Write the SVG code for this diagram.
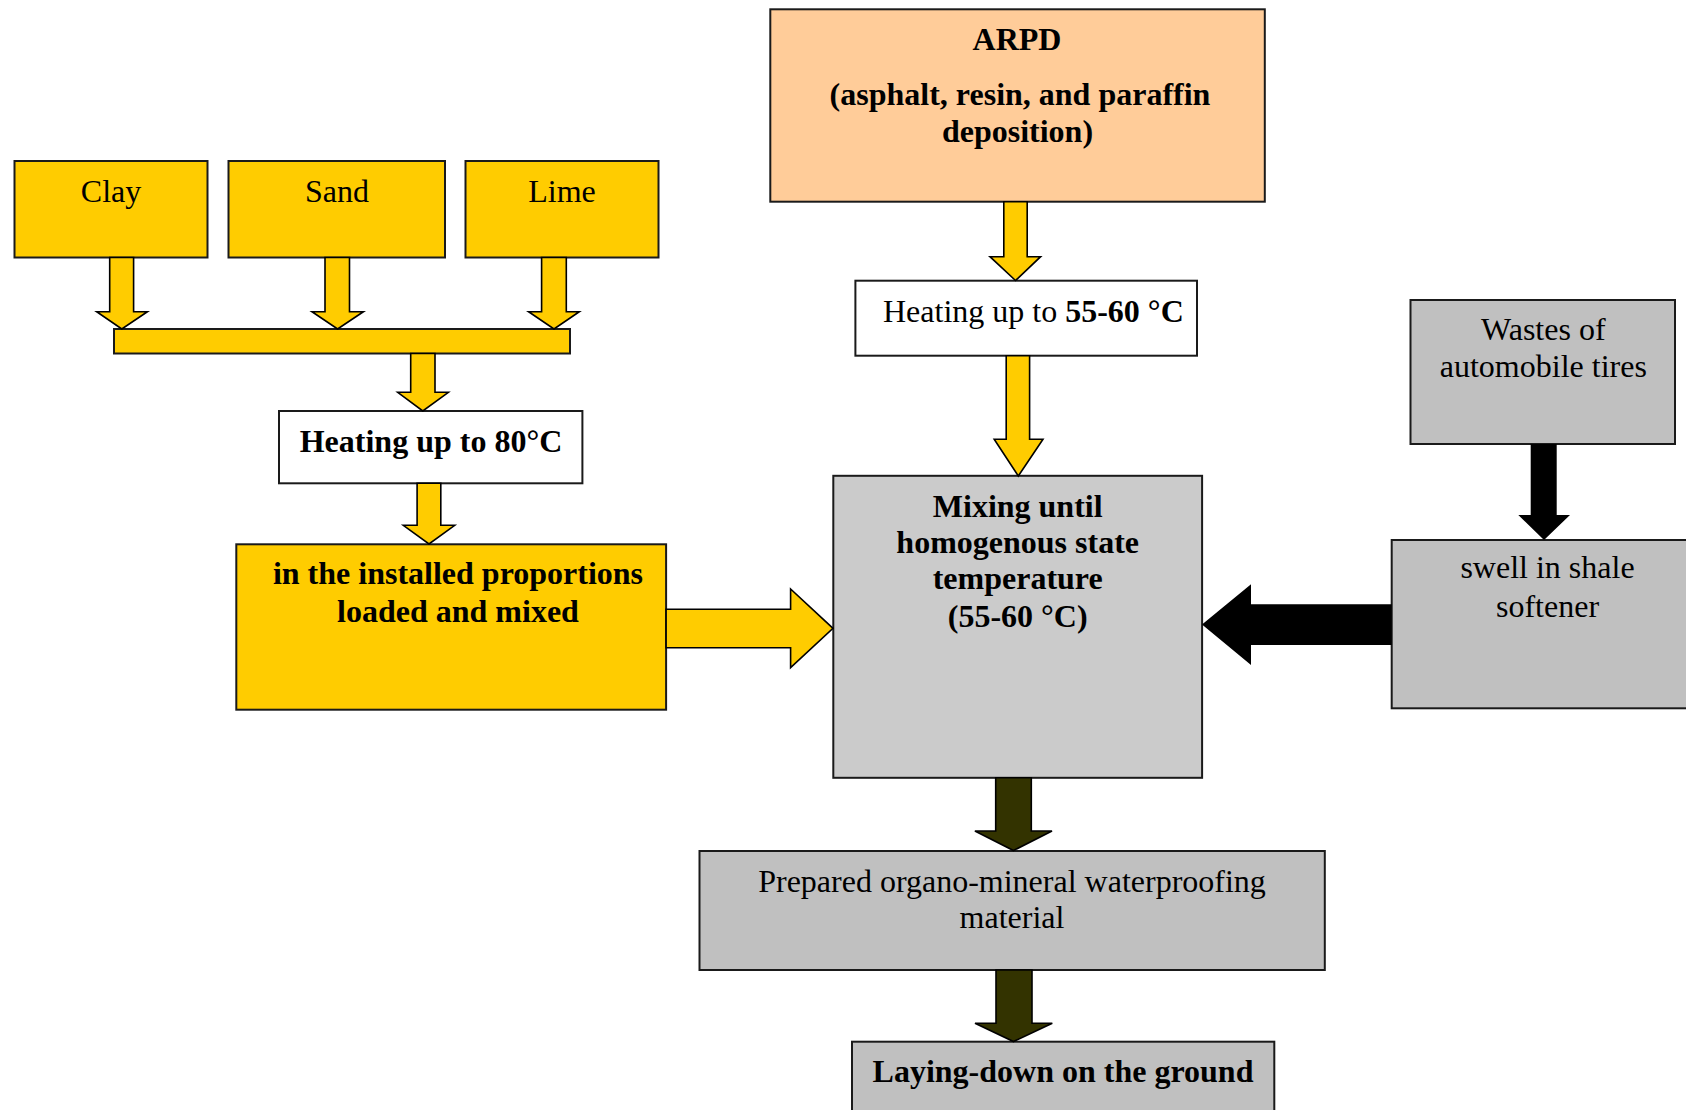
<svg xmlns="http://www.w3.org/2000/svg" width="1686" height="1110" viewBox="0 0 1686 1110">
<style>
.box{stroke:#1a1a1a;stroke-width:2}
.y{fill:#FFCC00}
.w{fill:#FFFFFF}
.o{fill:#FFCC99}
.g1{fill:#CBCBCB}
.g2{fill:#C0C0C0}
.ya{fill:#FFCC00;stroke:#000;stroke-width:1.6;stroke-linejoin:miter}
.ba{fill:#000;stroke:none}
.da{fill:#333300;stroke:#000;stroke-width:1.6}
text{font-family:"Liberation Serif","Times New Roman",serif;font-size:32px;fill:#000;text-anchor:middle}
.b{font-weight:bold}
</style>
<rect width="1686" height="1110" fill="#FFFFFF"/>
<g id="clay"><rect class="box y" x="14.5" y="161" width="193" height="96.5"/><text x="111" y="202">Clay</text></g>
<g id="sand"><rect class="box y" x="228.5" y="161" width="216.5" height="96.5"/><text x="337" y="202">Sand</text></g>
<g id="lime"><rect class="box y" x="465.5" y="161" width="193" height="96.5"/><text x="562" y="202">Lime</text></g>
<g id="collector"><rect class="box y" x="114" y="329" width="456" height="24.5"/></g>
<g id="heat80"><rect class="box w" x="279" y="411" width="303.4" height="72.3"/><text class="b" x="431" y="452">Heating up to 80°C</text></g>
<g id="load"><rect class="box y" x="236.3" y="544.3" width="429.8" height="165.4"/><text class="b" x="458" y="584.3">in the installed proportions</text><text class="b" x="458" y="621.7">loaded and mixed</text></g>
<g id="arpd"><rect class="box o" x="770.3" y="9.3" width="494.5" height="192.4"/><text class="b" x="1017" y="50">ARPD</text><text class="b" x="1020" y="105">(asphalt, resin, and paraffin</text><text class="b" x="1017.5" y="141.7">deposition)</text></g>
<g id="heat55"><rect class="box w" x="855.4" y="280.7" width="341.6" height="75"/><text x="883" y="321.7" style="text-anchor:start">Heating up to <tspan class="b">55-60 °C</tspan></text></g>
<g id="mixing"><rect class="box g1" x="833.3" y="475.8" width="368.8" height="302"/><text class="b" x="1017.7" y="516.7">Mixing until</text><text class="b" x="1017.7" y="553.3">homogenous state</text><text class="b" x="1017.7" y="589.3">temperature</text><text class="b" x="1017.7" y="626.7">(55-60 °C)</text></g>
<g id="wastes"><rect class="box g2" x="1410.5" y="300" width="264.5" height="144"/><text x="1543.3" y="340">Wastes of</text><text x="1543.3" y="377.3">automobile tires</text></g>
<g id="swell"><rect class="box g2" x="1391.7" y="540" width="310" height="168.3"/><text x="1547.5" y="578.3">swell in shale</text><text x="1547.5" y="616.7">softener</text></g>
<g id="prepared"><rect class="box g2" x="699.5" y="851" width="625.3" height="119"/><text x="1012" y="891.7">Prepared organo-mineral waterproofing</text><text x="1012" y="928.3">material</text></g>
<g id="laying"><rect class="box g2" x="852" y="1041.7" width="422.3" height="90"/><text class="b" x="1063" y="1081.5">Laying-down on the ground</text></g>
<g id="connectors">
<polygon class="ya" points="109.7,257.5 133.6,257.5 133.6,311.7 147.4,311.7 121.8,329 96.7,311.7 109.7,311.7"/>
<polygon class="ya" points="325,257.5 349.5,257.5 349.5,311.7 363.4,311.7 337.6,329 312,311.7 325,311.7"/>
<polygon class="ya" points="541.6,257.5 566.3,257.5 566.3,311.7 579.3,311.7 554,329 528.6,311.7 541.6,311.7"/>
<polygon class="ya" points="410.7,353.5 435,353.5 435,392.3 448.4,392.3 422.8,411 397.7,392.3 410.7,392.3"/>
<polygon class="ya" points="417.1,483.3 440.8,483.3 440.8,525.3 454.7,525.3 429,544 403.3,525.3 417.1,525.3"/>
<polygon class="ya" points="666.1,609.3 790.6,609.3 790.6,589 833,628.3 790.6,667.7 790.6,647.7 666.1,647.7"/>
<polygon class="ya" points="1003.8,201.7 1027.2,201.7 1027.2,256.7 1040.6,256.7 1015.5,280.5 990,256.7 1003.8,256.7"/>
<polygon class="ya" points="1006.2,355.7 1029.6,355.7 1029.6,439.3 1043,439.3 1018.3,476 994.2,439.3 1006.2,439.3"/>
<polygon class="ba" points="1530.7,444 1556.7,444 1556.7,515 1570,515 1544,540 1518.3,515 1530.7,515"/>
<polygon class="ba" points="1391.7,604.3 1251,604.3 1251,584.3 1202,624.5 1251,665 1251,645 1391.7,645"/>
<polygon class="da" points="995.7,777.7 1031.3,777.7 1031.3,831 1052,831 1013.5,850.5 974.9,831 995.7,831"/>
<polygon class="da" points="996,970 1032,970 1032,1023.3 1052.3,1023.3 1013.5,1041.5 975,1023.3 996,1023.3"/>
</g>
</svg>
